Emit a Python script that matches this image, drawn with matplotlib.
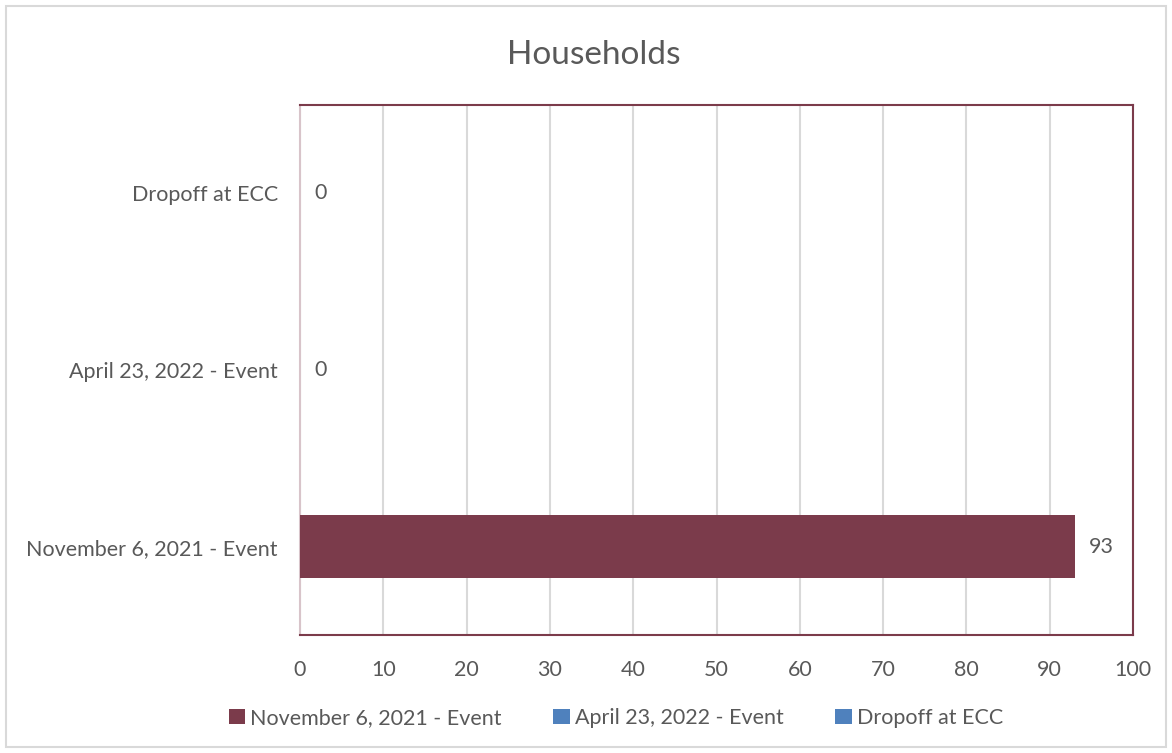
import matplotlib
matplotlib.use("Agg")
import matplotlib.pyplot as plt
from matplotlib.patches import Rectangle, Patch

categories = ["November 6, 2021 - Event", "April 23, 2022 - Event", "Dropoff at ECC"]
series_names = ["November 6, 2021 - Event", "April 23, 2022 - Event", "Dropoff at ECC"]
values = [93, 0, 0]
series_colors = ["#7B3B4B", "#4F81BD", "#4F81BD"]
xticks = [0, 10, 20, 30, 40, 50, 60, 70, 80, 90, 100]

plt.rcParams['font.family'] = ['Lato', 'DejaVu Sans']
txt = "#595959"
fs = 15.5

fig = plt.figure(figsize=(11.72, 7.53), dpi=100)
fig.patches.append(Rectangle((6/1172, 6/753), 1160/1172, 741/753, transform=fig.transFigure,
                             fill=False, edgecolor="#D9D9D9", linewidth=1.5))
ax = fig.add_axes([300/1172, 118/753, 833/1172, 530/753])

ypos = list(range(len(categories)))
ax.barh(ypos, values, height=0.36, color=series_colors, zorder=3)
for y, v in zip(ypos, values):
    ax.text(v + 1.7, y, f"{v}", va="center", ha="left", fontsize=fs, color=txt)

ax.set_xlim(0, 100)
ax.set_ylim(-0.5, 2.5)
ax.set_xticks(xticks)
ax.set_xticklabels([str(t) for t in xticks], fontsize=fs, color=txt)
ax.set_yticks(ypos)
ax.set_yticklabels(categories, fontsize=fs, color=txt)
ax.tick_params(axis='x', length=0, pad=18)
ax.tick_params(axis='y', length=0, pad=16)
ax.grid(axis='x', color="#D9D9D9", linewidth=1.5, zorder=0)
for s in ['top', 'right', 'bottom']:
    ax.spines[s].set_color("#7B3B4B")
    ax.spines[s].set_linewidth(1.5)
ax.spines['left'].set_color("#D8C4CA")
ax.spines['left'].set_linewidth(1.5)

fig.text(594/1172, 1 - 55/753, "Households", ha="center", va="center", fontsize=24, color=txt)

handles = [Patch(facecolor=c, edgecolor='none', label=n) for n, c in zip(series_names, series_colors)]
fig.legend(handles=handles, loc="center", bbox_to_anchor=(616/1172, 1 - 718/753), ncol=3,
           frameon=False, fontsize=fs, labelcolor=txt, handlelength=0.75, handleheight=0.75,
           handletextpad=0.25, columnspacing=2.4)

fig.savefig("out.png", dpi=100)
